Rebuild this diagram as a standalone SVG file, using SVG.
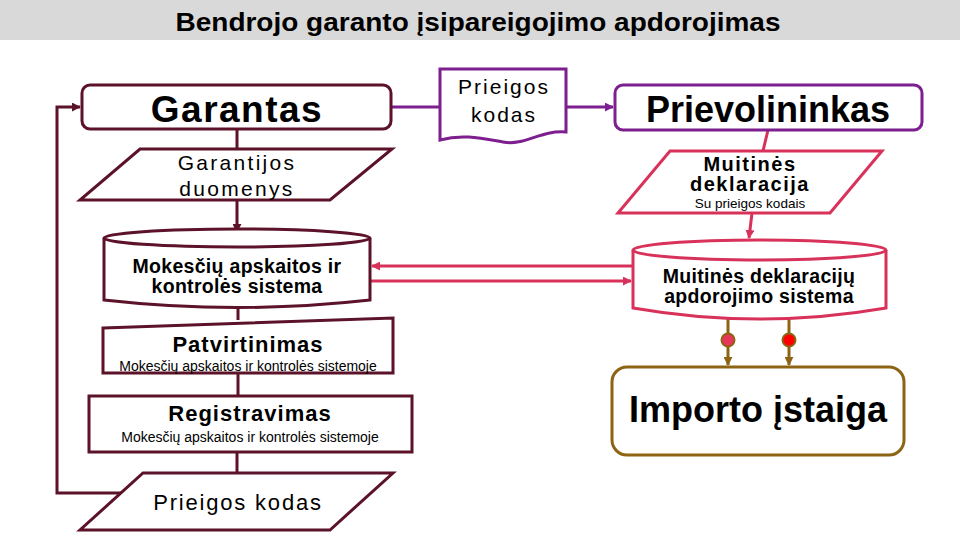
<svg xmlns="http://www.w3.org/2000/svg" width="960" height="540" viewBox="0 0 960 540">
<style>
text{font-family:"Liberation Sans",Arial,sans-serif;fill:#000;text-anchor:middle}
.b{font-weight:bold}
.m{fill:#fff;stroke:#5c1228;stroke-width:3}
.p{fill:#fff;stroke:#7d1f8e;stroke-width:3}
.c{fill:#fff;stroke:#d8325a;stroke-width:3}
.g{fill:#fff;stroke:#8c6414;stroke-width:3}
.lm{fill:none;stroke:#5c1228;stroke-width:3}
.lp{fill:none;stroke:#7d1f8e;stroke-width:3}
.lc{fill:none;stroke:#d8325a;stroke-width:3}
.lg{fill:none;stroke:#8c6414;stroke-width:3}
.sub{font-size:14px}
</style>
<defs>
<marker id="am" viewBox="0 0 10 10" refX="9" refY="5" markerWidth="3" markerHeight="3" orient="auto"><path d="M0,0L10,5L0,10z" fill="#5c1228"/></marker>
<marker id="ap" viewBox="0 0 10 10" refX="9" refY="5" markerWidth="3" markerHeight="3" orient="auto"><path d="M0,0L10,5L0,10z" fill="#7d1f8e"/></marker>
<marker id="ac" viewBox="0 0 10 10" refX="9" refY="5" markerWidth="3" markerHeight="3" orient="auto"><path d="M0,0L10,5L0,10z" fill="#d8325a"/></marker>
<marker id="ag" viewBox="0 0 10 10" refX="9" refY="5" markerWidth="3" markerHeight="3" orient="auto"><path d="M0,0L10,5L0,10z" fill="#8c6414"/></marker>
</defs>
<rect x="0" y="0" width="960" height="40" fill="#d9d9d9"/>
<text x="478" y="31" class="b" font-size="26" textLength="605" lengthAdjust="spacingAndGlyphs">Bendrojo garanto įsipareigojimo apdorojimas</text>

<g id="connectors">
<path class="lm" d="M122,493H57V107H80" marker-end="url(#am)"/>
<path class="lm" d="M237,129V149"/>
<path class="lm" d="M237,200V232" marker-end="url(#am)"/>
<path class="lm" d="M238,307V320"/>
<path class="lm" d="M238,373V396"/>
<path class="lm" d="M237,452V473"/>
<path class="lp" d="M391,107H440"/>
<path class="lp" d="M566,107H613" marker-end="url(#ap)"/>
<path class="lc" d="M768,130L763,151"/>
<path class="lc" d="M752,213L749,238" marker-end="url(#ac)"/>
<path class="lc" d="M633,266H372" marker-end="url(#ac)"/>
<path class="lc" d="M371,281H631" marker-end="url(#ac)"/>
<path class="lg" d="M728,319V365" marker-end="url(#ag)"/>
<path class="lg" d="M789,318V365" marker-end="url(#ag)"/>
<circle cx="728" cy="340" r="6.5" fill="#e8355a" stroke="#8c6414" stroke-width="2"/>
<circle cx="789" cy="340" r="6.5" fill="#ff0000" stroke="#8c6414" stroke-width="2"/>
</g>

<g id="garantas">
<rect class="m" x="82" y="85" width="309" height="44" rx="8"/>
<text x="237" y="122" class="b" font-size="37" letter-spacing="1.5">Garantas</text>
</g>
<g id="garantijos-duomenys">
<polygon class="m" points="140,149 392,149 330,200 80,200"/>
<text x="237" y="170" font-size="21" letter-spacing="2.3">Garantijos</text>
<text x="237" y="196" font-size="21" letter-spacing="2.3">duomenys</text>
</g>
<g id="prieigos-kodas-doc">
<path class="p" d="M440,69H566V132C540,130 525,146 503,142C480,138 462,134 440,140Z"/>
<text x="504" y="94" font-size="21" letter-spacing="2">Prieigos</text>
<text x="504" y="122" font-size="21" letter-spacing="2">kodas</text>
</g>
<g id="prievolininkas">
<rect class="p" x="615" y="85" width="307" height="45" rx="8"/>
<text x="768" y="122" class="b" font-size="36">Prievolininkas</text>
</g>
<g id="muitines-deklaracija">
<polygon class="c" points="670,151 882,151 830,213 618,213"/>
<text x="750" y="171" class="b" font-size="20" letter-spacing="1.5">Muitinės</text>
<text x="750" y="191" class="b" font-size="20" letter-spacing="1.5">deklaracija</text>
<text x="750" y="208" font-size="13.5">Su prieigos kodais</text>
</g>
<g id="mokesciu-sistema">
<path class="m" d="M104,238V300Q237,315 370,300V238"/>
<ellipse class="m" cx="237" cy="238" rx="133" ry="9"/>
<text x="237" y="273" class="b" font-size="19.5" letter-spacing="0.3">Mokesčių apskaitos ir</text>
<text x="237" y="293" class="b" font-size="19.5" letter-spacing="0.3">kontrolės sistema</text>
</g>
<g id="md-sistema">
<path class="c" d="M633,250V308Q759,330 886,308V250"/>
<ellipse class="c" cx="759.5" cy="250" rx="126.5" ry="10"/>
<text x="759" y="283" class="b" font-size="19.5" letter-spacing="0.3">Muitinės deklaracijų</text>
<text x="759" y="303" class="b" font-size="19.5" letter-spacing="0.3">apdorojimo sistema</text>
</g>
<g id="patvirtinimas">
<polygon class="m" points="103,328 393,318 393,373 103,373"/>
<text x="248" y="352" class="b" font-size="22" letter-spacing="1">Patvirtinimas</text>
<text x="248" y="371" class="sub">Mokesčių apskaitos ir kontrolės sistemoje</text>
</g>
<g id="registravimas">
<rect class="m" x="89" y="396" width="323" height="56"/>
<text x="250" y="421" class="b" font-size="22" letter-spacing="1">Registravimas</text>
<text x="250" y="442" class="sub">Mokesčių apskaitos ir kontrolės sistemoje</text>
</g>
<g id="prieigos-kodas">
<polygon class="m" points="143,473 393,473 330,530 80,530"/>
<text x="238" y="510" font-size="22" letter-spacing="1.8">Prieigos kodas</text>
</g>
<g id="importo-istaiga">
<rect class="g" x="612" y="367" width="292" height="88" rx="15"/>
<text x="758" y="422" class="b" font-size="36">Importo įstaiga</text>
</g>
</svg>
